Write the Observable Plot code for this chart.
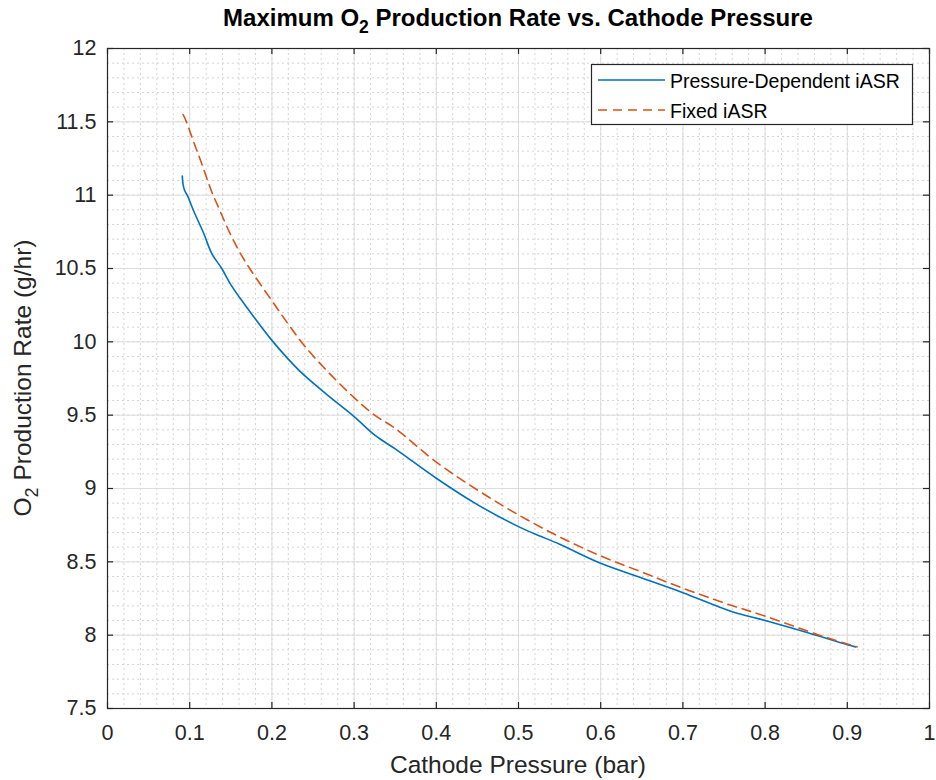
<!DOCTYPE html>
<html>
<head>
<meta charset="utf-8">
<script src="https://cdn.jsdelivr.net/npm/d3@7"></script>
<script src="https://cdn.jsdelivr.net/npm/@observablehq/plot@0.6"></script>
<style>
  html, body { margin: 0; padding: 0; background: #fff; }
  #chart { position: relative; width: 936px; height: 780px; }
</style>
</head>
<body>
<div id="chart"></div>
<script>
// ---- data ----
const pressureDepX = [0.091, 0.092, 0.094, 0.097, 0.1, 0.105, 0.117, 0.127, 0.139, 0.15, 0.161, 0.174, 0.2, 0.234, 0.267, 0.3, 0.326, 0.35, 0.4, 0.45, 0.5, 0.52, 0.55, 0.6, 0.65, 0.7, 0.76, 0.8, 0.85, 0.9, 0.91];
const pressureDepY = [11.13, 11.07, 11.03, 11.0, 10.96, 10.89, 10.74, 10.6, 10.5, 10.39, 10.3, 10.2, 10.01, 9.8, 9.64, 9.49, 9.36, 9.27, 9.07, 8.89, 8.74, 8.69, 8.62, 8.49, 8.39, 8.29, 8.16, 8.1, 8.02, 7.935, 7.92];
const fixedX = [0.092, 0.096, 0.105, 0.113, 0.127, 0.134, 0.149, 0.161, 0.173, 0.2, 0.22, 0.24, 0.27, 0.3, 0.325, 0.35, 0.4, 0.45, 0.5, 0.55, 0.6, 0.65, 0.7, 0.75, 0.8, 0.866, 0.9, 0.912];
const fixedY = [11.55, 11.5, 11.36, 11.24, 11.02, 10.93, 10.74, 10.61, 10.5, 10.28, 10.12, 9.97, 9.785, 9.62, 9.5, 9.41, 9.18, 8.99, 8.82, 8.67, 8.54, 8.43, 8.32, 8.22, 8.13, 8.0, 7.94, 7.92];
const seriesNames = ["Pressure-Dependent iASR", "Fixed iASR"];
const seriesColors = ["#0072BD", "#D95319"];

const xTicks = [0, 0.1, 0.2, 0.3, 0.4, 0.5, 0.6, 0.7, 0.8, 0.9, 1];
const xTickLabels = ["0", "0.1", "0.2", "0.3", "0.4", "0.5", "0.6", "0.7", "0.8", "0.9", "1"];
const yTicks = [7.5, 8, 8.5, 9, 9.5, 10, 10.5, 11, 11.5, 12];
const yTickLabels = ["7.5", "8", "8.5", "9", "9.5", "10", "10.5", "11", "11.5", "12"];
const xMinor = d3.range(0, 51).map(i => i * 0.02);
const yMinor = d3.range(0, 46).map(i => 7.5 + i * 0.1);

const titleMain = "Maximum O", titleSub = "2", titleRest = " Production Rate vs. Cathode Pressure";
const xLabel = "Cathode Pressure (bar)";
const yLabelMain = "O", yLabelSub = "2", yLabelRest = " Production Rate (g/hr)";

// ---- build table ----
const rows = [
  ...pressureDepX.map((x, i) => ({x, y: pressureDepY[i], s: seriesNames[0]})),
  ...fixedX.map((x, i) => ({x, y: fixedY[i], s: seriesNames[1]}))
];

const W = 936, H = 780, mL = 107, mR = 7, mT = 48, mB = 72;
const plotW = W - mL - mR, plotH = H - mT - mB;
const FONT = "'Liberation Sans', Arial, Helvetica, sans-serif";
const INK = "#262626";

const chart = Plot.plot({
  width: W, height: H,
  marginLeft: mL, marginRight: mR, marginTop: mT, marginBottom: mB,
  style: {fontFamily: FONT, fontSize: "21px", color: INK, background: "#fff"},
  x: {domain: [0, 1], label: null},
  y: {domain: [7.5, 12], label: null},
  color: {domain: seriesNames, range: seriesColors},
  marks: [
    Plot.gridX(xMinor, {stroke: "#d4d4d4", strokeOpacity: 1, strokeWidth: 1, strokeDasharray: "2,3"}),
    Plot.gridY(yMinor, {stroke: "#d4d4d4", strokeOpacity: 1, strokeWidth: 1, strokeDasharray: "2,3"}),
    Plot.gridX(xTicks, {stroke: "#dcdcdc", strokeOpacity: 1, strokeWidth: 1}),
    Plot.gridY(yTicks, {stroke: "#dcdcdc", strokeOpacity: 1, strokeWidth: 1}),
    Plot.line(rows.filter(d => d.s === seriesNames[0]), {x: "x", y: "y", stroke: "s", strokeWidth: 1.6, curve: "catmull-rom"}),
    Plot.line(rows.filter(d => d.s === seriesNames[1]), {x: "x", y: "y", stroke: "s", strokeWidth: 1.6, strokeDasharray: "9,6", curve: "catmull-rom"}),
    Plot.frame({stroke: INK, strokeWidth: 1.2}),
    Plot.tickX(xTicks, {x: d => d, insetTop: plotH - 6, stroke: INK, strokeWidth: 1.2}),
    Plot.tickX(xTicks, {x: d => d, insetBottom: plotH - 6, stroke: INK, strokeWidth: 1.2}),
    Plot.tickY(yTicks, {y: d => d, insetRight: plotW - 6, stroke: INK, strokeWidth: 1.2}),
    Plot.tickY(yTicks, {y: d => d, insetLeft: plotW - 6, stroke: INK, strokeWidth: 1.2}),
    Plot.axisX(xTicks, {tickSize: 0, tickPadding: 16, fontSize: 21.5, fill: INK, label: null,
      tickFormat: d => xTickLabels[xTicks.indexOf(d)]}),
    Plot.axisY(yTicks, {tickSize: 0, tickPadding: 11, fontSize: 21.5, fill: INK, label: null,
      tickFormat: d => yTickLabels[yTicks.indexOf(d)]})
  ]
});

document.getElementById("chart").appendChild(chart);
const svg = d3.select(chart);

// Title
const t = svg.append("text")
  .attr("x", mL + plotW / 2).attr("y", 26)
  .attr("text-anchor", "middle")
  .attr("font-family", FONT).attr("font-size", 24).attr("font-weight", "bold").attr("fill", "#000");
t.append("tspan").text(titleMain);
t.append("tspan").attr("dy", 7).attr("font-size", 17.5).text(titleSub);
t.append("tspan").attr("dy", -7).text(titleRest);

// X label
svg.append("text")
  .attr("x", mL + plotW / 2).attr("y", 773)
  .attr("text-anchor", "middle")
  .attr("font-family", FONT).attr("font-size", 24.5).attr("fill", INK)
  .text(xLabel);

// Y label
const yl = svg.append("text")
  .attr("transform", `translate(31,${mT + plotH / 2}) rotate(-90)`)
  .attr("text-anchor", "middle")
  .attr("font-family", FONT).attr("font-size", 24.5).attr("fill", INK);
yl.append("tspan").text(yLabelMain);
yl.append("tspan").attr("dy", 7).attr("font-size", 18).text(yLabelSub);
yl.append("tspan").attr("dy", -7).text(yLabelRest);

// Legend
const lg = svg.append("g").attr("text-anchor", "start");
lg.append("rect").attr("x", 591.5).attr("y", 64.5).attr("width", 321).attr("height", 60)
  .attr("fill", "#fff").attr("stroke", INK).attr("stroke-width", 1.2);
seriesNames.forEach((name, i) => {
  const yy = 80 + i * 30;
  lg.append("line").attr("x1", 598).attr("x2", 665).attr("y1", yy).attr("y2", yy)
    .attr("stroke", seriesColors[i]).attr("stroke-width", 1.6)
    .attr("stroke-dasharray", i === 1 ? "9,6" : null);
  lg.append("text").attr("x", 670).attr("y", yy + 7.5)
    .attr("text-anchor", "start")
    .attr("font-family", FONT).attr("font-size", 19.5).attr("fill", "#000")
    .text(name);
});
</script>
</body>
</html>
